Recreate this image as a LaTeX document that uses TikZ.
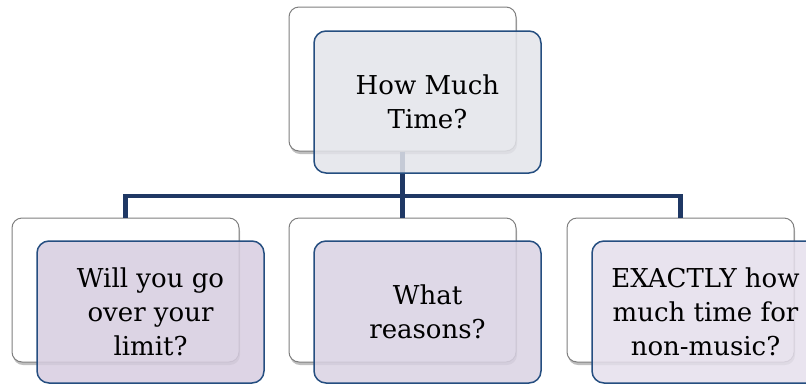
\documentclass[tikz,border=0pt]{standalone}
\usepackage{fontspec}
\setmainfont{DejaVu Serif}
\usetikzlibrary{positioning}
\usetikzlibrary{shadows}
\definecolor{linkblue}{RGB}{31,56,100}
\definecolor{frameblue}{RGB}{37,78,128}
\definecolor{backgray}{RGB}{127,127,127}
\definecolor{topfill}{RGB}{227,228,234}
\definecolor{leftfill}{RGB}{215,205,224}
\definecolor{midfill}{RGB}{217,210,227}
\definecolor{rightfill}{RGB}{229,223,236}
\tikzstyle{back} = [rectangle, rounded corners=10pt, draw=backgray, line width=1pt,
fill=white, minimum width=227pt, minimum height=144pt, inner sep=0pt,
drop shadow={shadow xshift=1pt, shadow yshift=-3pt, opacity=0.25, fill=black}]
\tikzstyle{front} = [rectangle, rounded corners=12pt, draw=frameblue, line width=1.5pt,
fill opacity=0.85, text opacity=1, minimum width=227pt, minimum height=142pt,
inner sep=0pt, align=center, font=\fontsize{26}{34}\selectfont]
\tikzstyle{link} = [draw=linkblue, line width=4.5pt]

\begin{document}
\begin{tikzpicture}[x=1pt, y=1pt]
  \useasboundingbox (0,0) rectangle (806,-384);

  % back row
  \node[back] (lb) at (125.5,-290) {};
  \node[back, right=49pt of lb] (mb) {};
  \node[back, right=50pt of mb] (rb) {};
  \node[back, above=66pt of mb] (tb) {};

  % tree lines
  \coordinate (bus) at (0,-196);
  \draw[link] (tb.south) -- (tb.south |- bus) -| (lb.north);
  \draw[link] (tb.south) -- (mb.north);
  \draw[link] (tb.south |- bus) -| (rb.north);

  % front row
  \node[front, fill=topfill] (tf) at ([shift={(25,-23)}]tb) {How Much\\Time?};
  \node[front, fill=leftfill] (lf) at ([shift={(25,-22)}]lb) {Will you go\\over your\\limit?};
  \node[front, fill=midfill] (mf) at ([shift={(25,-22)}]mb) {What\\reasons?};
  \node[front, fill=rightfill] (rf) at ([shift={(25,-22)}]rb) {EXACTLY how\\much time for\\non-music?};
\end{tikzpicture}
\end{document}
